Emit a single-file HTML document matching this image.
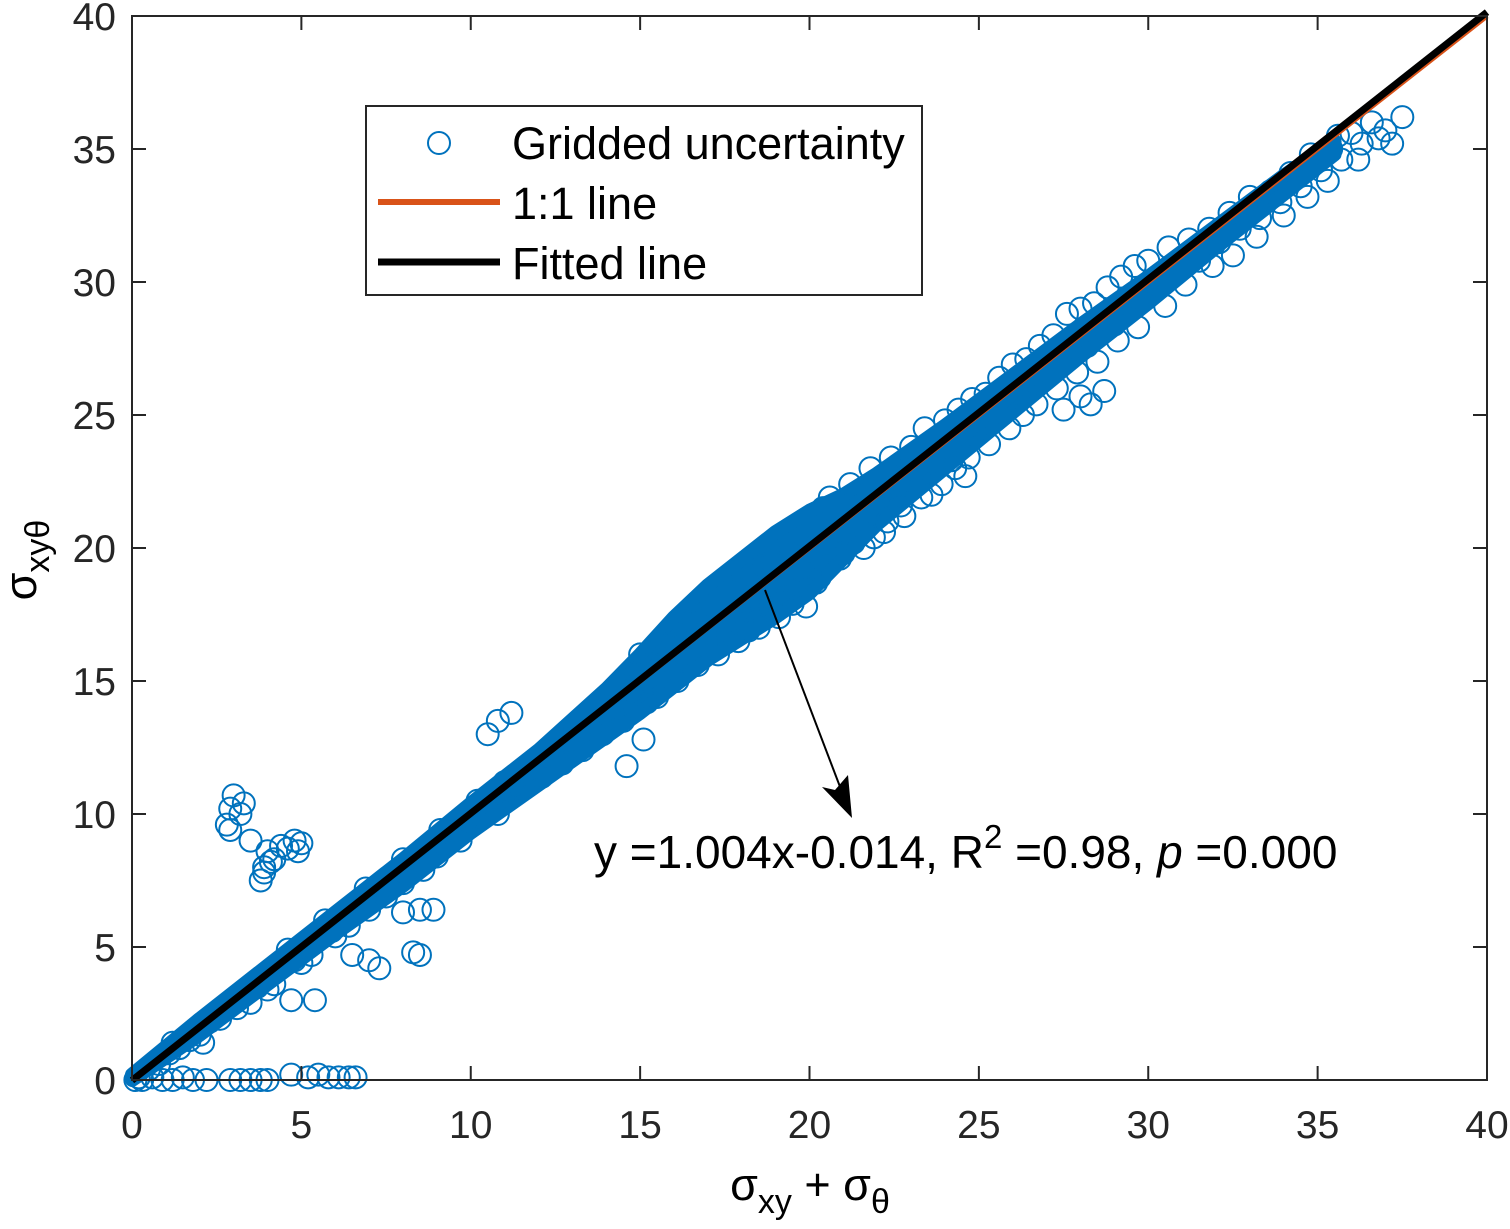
<!DOCTYPE html>
<html><head><meta charset="utf-8">
<style>
html,body{margin:0;padding:0;background:#fff;}
svg{display:block;font-family:"Liberation Sans",Arial,sans-serif;}
</style></head>
<body>
<svg id="chart" width="1510" height="1229" viewBox="0 0 1510 1229">
<g id="band"></g>
<g id="pts"></g>
<g id="lines"></g>
<g id="axes"></g>
<g>
 <rect x="366" y="106" width="556" height="189" fill="#fff" stroke="#262626" stroke-width="2"/>
 <circle cx="439" cy="143" r="11" fill="none" stroke="#0072BD" stroke-width="2"/>
 <text x="512" y="159" font-size="45" fill="#000">Gridded uncertainty</text>
 <line x1="378" y1="202" x2="500" y2="202" stroke="#D95319" stroke-width="6"/>
 <text x="512" y="219" font-size="45" fill="#000">1:1 line</text>
 <line x1="378" y1="262" x2="500" y2="262" stroke="#000" stroke-width="7"/>
 <text x="512" y="279" font-size="45" fill="#000">Fitted line</text>
</g>
<g>
 <line x1="765" y1="590" x2="842" y2="792" stroke="#000" stroke-width="2"/>
 <polygon points="852,818 822,787 835,790 848,775" fill="#000"/>
 <text x="594" y="868" font-size="46" fill="#000">y =1.004x-0.014, R<tspan dy="-20" font-size="33">2</tspan><tspan dy="20"> =0.98, </tspan><tspan font-style="italic">p</tspan> =0.000</text>
</g>
<text x="810" y="1200" font-size="45" text-anchor="middle">σ<tspan dy="13" font-size="34">xy</tspan><tspan dy="-13"> + σ</tspan><tspan dy="13" font-size="34">θ</tspan></text>
<text transform="translate(36,560) rotate(-90)" font-size="45" text-anchor="middle">σ<tspan dy="13" font-size="34">xyθ</tspan></text>
</svg>
<script>
const xTicks=[0,5,10,15,20,25,30,35,40];
const yTicks=[0,5,10,15,20,25,30,35,40];
const bandX=[0,2,4,6,8,10,12,14,15,16,17,18,19,20,21,22,24,26,28,30,32,34,35.5];
const bandLo=[0,1.7,3.6,5.5,7.3,9.3,11.1,12.9,13.8,14.8,15.8,16.6,17.4,18.3,19.6,20.9,23.0,25.1,27.2,29.2,31.3,33.3,34.8];
const bandHi=[0.2,2.3,4.3,6.3,8.3,10.4,12.4,14.7,16.0,17.4,18.6,19.6,20.6,21.4,22.0,22.8,24.6,26.5,28.4,30.2,32.1,34.0,35.3];
const fitSlope=1.004, fitIntercept=-0.014;
const ptX=[0.2,0.5,0.8,1.1,1.4,1.2,1.7,2.0,2.3,2.1,2.6,2.9,3.1,3.4,3.7,3.5,4.0,4.2,4.5,4.8,4.6,5.1,5.3,5.6,5.9,5.7,6.2,6.4,6.7,7.0,6.9,7.3,7.5,7.8,8.1,8.0,8.4,8.6,8.9,9.2,9.1,9.5,9.7,10.0,10.3,10.2,
10.6,10.8,11.0,11.2,11.5,11.7,11.9,12.1,12.3,12.5,12.7,12.9,13.1,13.3,13.5,13.7,13.9,14.1,14.3,14.5,14.7,14.9,14.8,15.1,15.3,15.5,15.0,15.7,15.9,16.1,
16.3,16.5,16.7,16.9,17.1,17.3,17.5,17.7,17.9,18.1,18.3,18.5,18.7,18.9,19.1,19.3,19.5,19.7,19.9,20.1,20.2,20.4,20.6,20.8,21.0,21.2,21.4,21.6,21.8,22.0,22.2,22.4,22.6,22.8,23.0,23.2,23.4,23.6,23.8,24.0,24.2,24.4,24.6,24.8,25.0,25.2,25.4,25.6,25.8,26.0,26.2,26.4,26.6,26.8,27.0,27.2,27.4,27.6,27.8,28.0,28.2,28.4,28.6,28.8,29.0,29.2,29.4,29.6,29.8,30.0,30.3,30.6,30.9,31.2,31.5,31.8,32.1,32.4,32.7,33.0,33.3,33.6,33.9,34.2,34.5,34.8,35.1,35.4,35.7,36.0,36.3,36.6,37.0,37.5,36.8,35.6,
15.2,15.6,16.0,16.4,16.8,17.2,17.6,18.0,18.4,18.8,19.2,19.6,17.0,18.2,19.0,16.2,17.8,18.6,19.4,20.5,21.5,22.5,23.5,20.0,14.0,13.0,12.0,11.0,9.0,8.0,7.0,6.0,5.0,4.0,
20.3,20.9,21.3,21.9,22.3,22.7,23.3,23.9,24.3,24.7,25.3,25.9,26.3,26.7,27.3,27.9,28.5,29.1,29.7,30.5,31.1,31.9,32.5,33.2,34.0,34.7,35.3,36.2,37.2,
2.8,2.9,3.0,3.2,3.3,2.9,3.5,3.8,3.9,4.0,4.2,4.4,4.6,4.8,4.9,5.0,3.9,4.1,
0.1,0.3,0.6,0.9,1.2,1.5,1.8,2.2,2.9,3.2,3.5,3.8,4.0,4.7,5.2,5.5,5.8,6.1,6.4,6.6,
4.7,5.4,6.5,7.0,7.3,8.3,8.5,8.0,8.5,8.9,10.5,10.8,11.2,14.6,15.1,27.5,28.0,28.3,28.7,24.6];
const ptY=[0.1,0.4,0.6,1.0,1.2,1.4,1.5,1.7,2.2,1.4,2.3,2.8,2.7,3.3,3.5,2.9,3.9,3.6,4.4,4.5,4.9,5.0,4.7,5.5,5.6,6.0,6.1,5.8,6.6,6.7,7.2,7.2,6.9,7.7,7.8,8.3,8.3,7.9,8.8,8.9,9.4,9.4,9.0,9.9,9.9,10.5,
10.5,10.0,11.2,10.9,11.0,11.6,12.0,11.4,12.2,12.6,11.9,12.8,13.2,12.4,13.4,13.9,13.0,14.0,14.6,13.5,14.6,15.3,14.0,15.0,15.7,14.4,16.0,15.8,16.4,15.0,
16.7,17.2,15.6,16.8,17.8,16.0,17.4,18.4,16.5,18.0,19.0,17.0,18.5,19.5,17.4,18.8,17.9,19.2,17.8,20.0,18.7,21.5,21.9,20.6,19.8,22.4,21.1,20.0,23.0,21.8,20.6,23.4,22.3,21.2,23.8,22.9,24.5,22.0,23.6,24.8,23.3,25.2,24.2,25.6,24.5,25.8,24.9,26.4,25.5,26.9,25.7,27.1,26.2,27.6,26.6,28.0,27.0,28.8,27.5,29.0,27.6,29.2,28.3,29.8,28.4,30.2,29.2,30.6,29.3,30.8,29.9,31.3,30.5,31.6,30.8,32.0,31.5,32.6,32.0,33.2,32.4,33.4,33.0,34.1,33.6,34.8,34.2,35.0,34.6,35.6,35.2,36.0,35.7,36.2,35.4,35.5,
14.2,16.4,15.4,15.8,17.6,17.0,16.8,17.6,18.1,17.8,19.0,18.5,16.3,16.9,18.0,16.0,17.2,19.3,19.8,19.3,20.6,21.8,23.2,19.0,13.6,12.5,11.7,10.6,8.4,7.4,6.4,5.4,4.4,3.4,
18.9,19.6,20.2,20.4,21.0,21.6,21.9,22.4,23.0,23.4,23.9,24.5,25.0,25.4,26.0,26.6,27.0,27.8,28.3,29.1,29.9,30.6,31.0,31.7,32.5,33.2,33.8,34.6,35.2,
9.6,10.2,10.7,10.0,10.4,9.4,9.0,7.5,8.0,8.6,8.3,8.8,8.7,9.0,8.6,8.9,7.8,8.2,
0.0,0.0,0.1,0.0,0.0,0.1,0.0,0.0,0.0,0.0,0.0,0.0,0.0,0.2,0.1,0.2,0.1,0.1,0.1,0.1,
3.0,3.0,4.7,4.5,4.2,4.8,4.7,6.3,6.4,6.4,13.0,13.5,13.8,11.8,12.8,25.2,25.7,25.4,25.9,22.7];

const L=132,R=1487,T=16,B=1080;
const sx=v=>L+(v-0)/40*(R-L);
const sy=v=>B-(v-0)/40*(B-T);
const NS='http://www.w3.org/2000/svg';
function mk(tag,parent,attrs){const e=document.createElementNS(NS,tag);for(const k in attrs)e.setAttribute(k,attrs[k]);parent.appendChild(e);return e;}

const band=document.getElementById('band');
let d='M'+bandX.map((x,i)=>sx(x)+','+sy(bandHi[i])).join(' L');
for(let i=bandX.length-1;i>=0;i--) d+=' L'+sx(bandX[i])+','+sy(bandLo[i]);
const bp=mk('path',band,{d:d+'Z',fill:'#0072BD',stroke:'#0072BD','stroke-width':14,'stroke-linejoin':'round'});



const pts=document.getElementById('pts');
ptX.forEach((x,i)=>{
 const c=mk('circle',pts,{cx:sx(x),cy:sy(ptY[i]),r:11,fill:'none',stroke:'#0072BD','stroke-width':2});
 
 
});

const lines=document.getElementById('lines');
const l1=mk('line',lines,{x1:sx(0),y1:sy(0),x2:sx(40),y2:sy(40),stroke:'#D95319','stroke-width':5});


const l2=mk('line',lines,{x1:sx(0),y1:sy(fitIntercept),x2:sx(40),y2:sy(fitSlope*40+fitIntercept),stroke:'#000','stroke-width':7});



const axes=document.getElementById('axes');
const fr=mk('rect',axes,{x:L,y:T,width:R-L,height:B-T,fill:'none',stroke:'#262626','stroke-width':2});


xTicks.forEach(v=>{
 const x=sx(v);
 mk('line',axes,{x1:x,y1:B,x2:x,y2:B-14,stroke:'#262626','stroke-width':2});
 mk('line',axes,{x1:x,y1:T,x2:x,y2:T+14,stroke:'#262626','stroke-width':2});
 const t=mk('text',axes,{x:x,y:B+58,'font-size':39,'text-anchor':'middle',fill:'#262626'});
 t.textContent=v;
 
 
});
yTicks.forEach(v=>{
 const y=sy(v);
 mk('line',axes,{x1:L,y1:y,x2:L+14,y2:y,stroke:'#262626','stroke-width':2});
 mk('line',axes,{x1:R,y1:y,x2:R-14,y2:y,stroke:'#262626','stroke-width':2});
 const t=mk('text',axes,{x:L-16,y:y+14,'font-size':39,'text-anchor':'end',fill:'#262626'});
 t.textContent=v;
 
 
});
</script>
</body></html>
